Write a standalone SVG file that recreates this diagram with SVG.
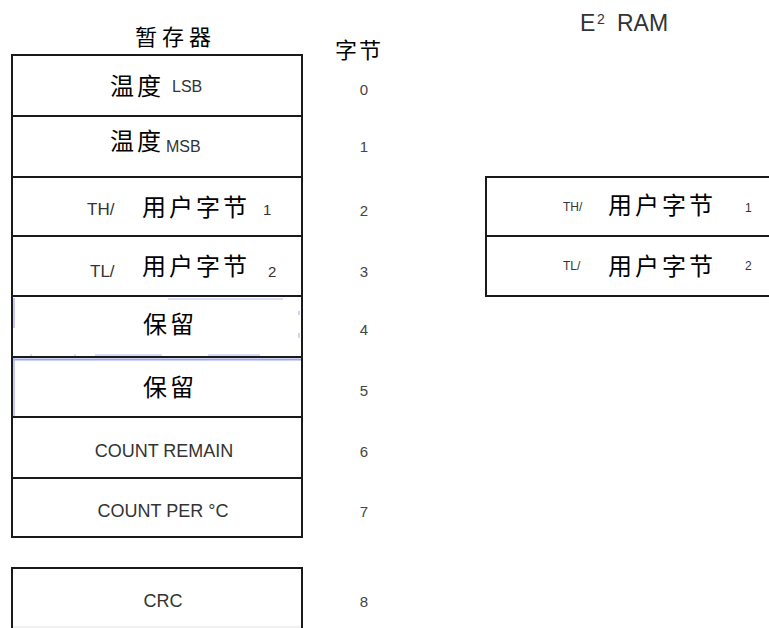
<svg xmlns="http://www.w3.org/2000/svg" width="769" height="628" viewBox="0 0 769 628">
<style>
.box{fill:#fff;stroke:#1a1a1a;stroke-width:2}
.cjk{font-family:"Noto Sans CJK SC","Noto Sans CJK JP",sans-serif;font-size:24px;letter-spacing:3px;fill:#000}
.lat{font-family:"Liberation Sans",Arial,sans-serif;fill:#333}
.num{font-family:"Liberation Sans",Arial,sans-serif;font-size:15px;fill:#444;text-anchor:middle}
.mid{text-anchor:middle}
.blue{stroke:#b3b8f2;fill:none}
</style>
<rect width="769" height="628" fill="#fff"/>
<g id="headers">
<text class="cjk" x="135" y="45" style="font-size:22px;letter-spacing:5px">暂存器</text>
<text class="cjk" x="335" y="58" style="font-size:22px;letter-spacing:2px">字节</text>
<text class="lat" x="580" y="31" font-size="23" fill="#222">E</text>
<text class="lat" x="597" y="24" font-size="14" fill="#222">2</text>
<text class="lat" x="617" y="31" font-size="23" fill="#222">RAM</text>
</g>
<g id="row0">
<rect class="box" x="12" y="55" width="290" height="61"/>
<text class="cjk" x="110" y="95">温度</text>
<text class="lat" x="172" y="92" font-size="16">LSB</text>
</g>
<g id="row1">
<rect class="box" x="12" y="116" width="290" height="61"/>
<text class="cjk" x="110" y="150">温度</text>
<text class="lat" x="166" y="152" font-size="16">MSB</text>
</g>
<g id="row2">
<rect class="box" x="12" y="177" width="290" height="59"/>
<text class="lat" x="87" y="215" font-size="17">TH/</text>
<text class="cjk" x="142" y="216">用户字节</text>
<text class="lat" x="263" y="215" font-size="15">1</text>
</g>
<g id="row3">
<rect class="box" x="12" y="236" width="290" height="60"/>
<text class="lat" x="90" y="277" font-size="17">TL/</text>
<text class="cjk" x="142" y="275">用户字节</text>
<text class="lat" x="268" y="277" font-size="15">2</text>
</g>
<g id="row4">
<rect class="box" x="12" y="296" width="290" height="61"/>
<text class="cjk" x="143" y="333">保留</text>
</g>
<g id="row5">
<rect class="box" x="12" y="357" width="290" height="60"/>
<text class="cjk" x="143" y="396">保留</text>
</g>
<g id="row6">
<rect class="box" x="12" y="417" width="290" height="61"/>
<text class="lat mid" x="164" y="457" font-size="18">COUNT REMAIN</text>
</g>
<g id="row7">
<rect class="box" x="12" y="478" width="290" height="59"/>
<text class="lat mid" x="163" y="517" font-size="18">COUNT PER °C</text>
</g>
<g id="row8">
<rect class="box" x="12" y="568" width="290" height="62"/>
<line x1="13" y1="627" x2="301" y2="627" stroke="#e2e2e2" stroke-width="1"/>
<text class="lat mid" x="163" y="607" font-size="18">CRC</text>
</g>
<g id="artifacts">
<line class="blue" x1="168" y1="299" x2="283" y2="299" stroke-width="1.2"/>
<line class="blue" x1="14" y1="298" x2="14" y2="328" stroke-width="1.5"/>
<line class="blue" x1="299" y1="311" x2="299" y2="315" stroke-width="1.2"/>
<line class="blue" x1="299" y1="333" x2="299" y2="338" stroke-width="1.2"/>
<line class="blue" x1="95" y1="355" x2="162" y2="355" stroke-width="1.2"/>
<line class="blue" x1="208" y1="355" x2="260" y2="355" stroke-width="1.2"/>
<line class="blue" x1="31" y1="354" x2="31" y2="356" stroke-width="1"/>
<line class="blue" x1="75" y1="354" x2="75" y2="356" stroke-width="1"/>
<line x1="13" y1="359.5" x2="301" y2="359.5" stroke="#9ea6f0" stroke-width="2"/>
<line class="blue" x1="14" y1="358" x2="14" y2="416" stroke-width="1.5"/>
</g>
<g id="bytes">
<text class="num" x="364" y="95">0</text>
<text class="num" x="364" y="152">1</text>
<text class="num" x="364" y="216">2</text>
<text class="num" x="364" y="277">3</text>
<text class="num" x="364" y="335">4</text>
<text class="num" x="364" y="396">5</text>
<text class="num" x="364" y="457">6</text>
<text class="num" x="364" y="517">7</text>
<text class="num" x="364" y="607">8</text>
</g>
<g id="e2-row0">
<rect class="box" x="486" y="177" width="300" height="59"/>
<text class="lat" x="563" y="211" font-size="12">TH/</text>
<text class="cjk" x="608" y="214">用户字节</text>
<text class="lat" x="745" y="212" font-size="12">1</text>
</g>
<g id="e2-row1">
<rect class="box" x="486" y="236" width="300" height="60"/>
<text class="lat" x="563" y="270" font-size="12">TL/</text>
<text class="cjk" x="608" y="275">用户字节</text>
<text class="lat" x="745" y="270" font-size="12">2</text>
</g>
<g id="connectors"></g>
</svg>
